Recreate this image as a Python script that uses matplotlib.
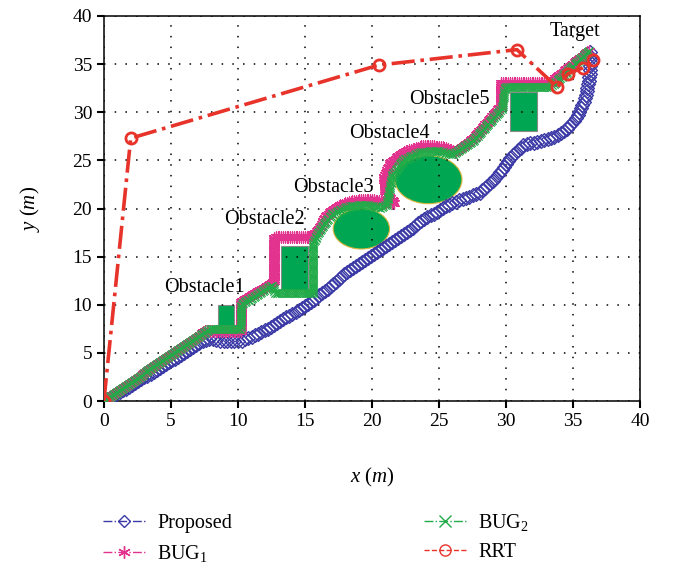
import numpy as np
import matplotlib
matplotlib.use("Agg")
import matplotlib.pyplot as plt
from matplotlib.lines import Line2D
from matplotlib.patches import Rectangle, Ellipse
from matplotlib.patheffects import AbstractPathEffect
from matplotlib.markers import MarkerStyle
from matplotlib.path import Path
from matplotlib.transforms import Affine2D, IdentityTransform

plt.rcParams['font.family'] = ['Liberation Serif', 'DejaVu Serif']
plt.rcParams['mathtext.fontset'] = 'custom'
plt.rcParams['mathtext.rm'] = 'Liberation Serif'
plt.rcParams['mathtext.it'] = 'Liberation Serif:italic'

# paths (x, y in metres)
prop_x = [0, 2, 4, 6, 7.3, 7.8, 8.5, 9.5, 10.3, 11.2, 12.2, 13.5, 15.0, 16.5, 18.0,
          20.2, 22.0, 24.0, 26.0, 28.0, 29.3, 30.3, 31.3, 32.5, 33.5, 34.5, 35.3,
          35.9, 36.2, 36.3, 36.2]
prop_y = [0, 1.6, 3.3, 5.0, 6.2, 6.5, 6.3, 6.2, 6.3, 6.8, 7.5, 8.6, 9.9, 11.4, 13.3,
          15.4, 17.0, 19.0, 20.6, 21.6, 23.3, 25.3, 26.6, 27.0, 27.4, 28.2, 29.6,
          31.5, 33.5, 35.3, 36.4]

bug1_x = [0, 7.6, 10.2, 10.2, 12.7, 12.7, 15.4, 16.0, 16.6, 17.5, 18.6, 19.8, 20.9,
          21.6, 21.0, 20.9, 21.4, 22.4, 23.8, 25.2, 26.2, 27.5, 29.6, 29.6, 33.2, 36.2]
bug1_y = [0, 7.3, 7.3, 10.3, 12.4, 17.0, 17.0, 17.8, 19.3, 20.3, 20.8, 20.9, 20.7,
          20.6, 21.8, 23.3, 24.8, 25.9, 26.5, 26.4, 25.9, 27.2, 30.6, 33.0, 33.0, 36.4]

bug2_x = [0, 7.4, 7.9, 10.2, 10.2, 12.5, 12.8, 15.6, 15.6, 16.2, 17.0, 18.2, 19.4,
          20.6, 21.1, 21.3, 21.5, 22.3, 23.5, 24.8, 26.0, 27.5, 29.7, 29.9, 33.3, 36.2]
bug2_y = [0, 7.1, 7.5, 7.5, 10.0, 12.0, 11.2, 11.2, 16.4, 18.0, 19.4, 20.2, 20.4,
          20.1, 20.4, 22.0, 23.5, 25.0, 25.8, 26.0, 25.6, 27.0, 30.4, 32.6, 32.6, 36.4]

rrt_x = [0, 2.0, 20.5, 30.8, 33.8, 34.6, 35.7, 36.5]
rrt_y = [0, 27.3, 34.9, 36.5, 32.6, 34.0, 34.6, 35.4]

# obstacles: rectangles (x0, y0, w, h) and circles (cx, cy, r)
rects = [(8.5, 7.6, 1.2, 2.4), (13.2, 11.5, 2.0, 4.6), (30.3, 28.1, 2.0, 4.0)]
circles = [(19.2, 17.9, 2.1), (24.2, 23.0, 2.5)]
obs_labels = ['Obstacle1', 'Obstacle2', 'Obstacle3', 'Obstacle4', 'Obstacle5', 'Target']
obs_lx = [7.5, 12.0, 17.1, 21.3, 25.8, 35.1]
obs_ly = [11.8, 18.9, 22.2, 27.8, 31.3, 38.4]

c_prop = '#3b3aa6'
c_bug1 = '#e2348e'
c_bug2 = '#22ab48'
c_rrt = '#e8332b'
c_obs = '#00a651'


class MarkerTrail(AbstractPathEffect):
    """Stamp a marker every `step` points along the drawn line."""

    def __init__(self, marker, size, step, color, lw=0.9):
        super().__init__()
        self.marker = MarkerStyle(marker)
        self.size = size
        self.step = step
        self.color = color
        self.lw = lw

    def draw_path(self, renderer, gc, tpath, affine, rgbFace=None):
        verts = affine.transform(tpath.vertices)
        d = np.hypot(*np.diff(verts, axis=0).T)
        cum = np.r_[0, np.cumsum(d)]
        s = np.arange(0, cum[-1] + 1e-9, renderer.points_to_pixels(self.step))
        pts = np.c_[np.interp(s, cum, verts[:, 0]), np.interp(s, cum, verts[:, 1])]
        mtrans = self.marker.get_transform() + Affine2D().scale(
            renderer.points_to_pixels(self.size))
        gc0 = renderer.new_gc()
        gc0.copy_properties(gc)
        gc0.set_foreground(self.color)
        gc0.set_linewidth(self.lw)
        gc0.set_dashes(0, None)
        renderer.draw_markers(gc0, self.marker.get_path(), mtrans, Path(pts),
                              IdentityTransform(), None)
        gc0.restore()


fig = plt.figure(figsize=(6.79, 5.69), dpi=100)
ax = fig.add_axes([0.153, 0.295, 0.79, 0.677])

for (x0, y0, w, h) in rects:
    ax.add_patch(Rectangle((x0, y0), w, h, fc=c_obs, ec='#8a8a8a', lw=0.8, zorder=1))
for (cx, cy, r) in circles:
    ax.add_patch(Ellipse((cx, cy), 2 * r, 2 * r, fc=c_obs, ec='#d9b43a', lw=0.8, zorder=1))

ax.plot(prop_x, prop_y, color=c_prop, lw=1, ls='-.', zorder=3,
        path_effects=[MarkerTrail('D', 7.0, 2.6, c_prop, lw=1.0)])
ax.plot(bug1_x, bug1_y, color=c_bug1, lw=1, ls='-.', zorder=4,
        path_effects=[MarkerTrail((6, 2, 0), 8.0, 1.3, c_bug1, lw=0.9)])
ax.plot(bug2_x, bug2_y, color=c_bug2, lw=1, ls='-.', zorder=5,
        path_effects=[MarkerTrail('x', 6.0, 1.3, c_bug2, lw=0.9)])
ax.plot(rrt_x, rrt_y, color=c_rrt, lw=2.6, ls='-.', marker='o', ms=8, mfc='none',
        mec=c_rrt, mew=2.0, zorder=6)

for lab, lx, ly in zip(obs_labels, obs_lx, obs_ly):
    ax.text(lx, ly, lab, fontsize=14.5, ha='center', va='center', zorder=7)

ax.set_xlim(0, 40)
ax.set_ylim(0, 40)
ax.set_xticks(np.arange(0, 41, 5))
ax.set_yticks(np.arange(0, 41, 5))
ax.tick_params(direction='out', length=5, width=1.5, labelsize=14, top=False, right=False)
ax.grid(True, color='black', ls=(0, (1, 6)), lw=1.1)
for sp in ax.spines.values():
    sp.set_linewidth(1.1)
ax.set_xlabel(r'$x\ (m)$', fontsize=15, labelpad=26)
ax.set_ylabel(r'$y\ (m)$', fontsize=15, labelpad=22)

handles = [
    Line2D([], [], color=c_prop, ls='-.', lw=1, marker='D', ms=6, mfc='none', mec=c_prop),
    Line2D([], [], color=c_bug1, ls='-.', lw=1, marker=(6, 2, 0), ms=9, mec=c_bug1),
    Line2D([], [], color=c_bug2, ls='-.', lw=1, marker='x', ms=8, mec=c_bug2),
    Line2D([], [], color=c_rrt, ls='--', lw=1, marker='o', ms=8, mfc='none', mec=c_rrt),
]
names = ['Proposed', 'BUG$_1$', 'BUG$_2$', 'RRT']
fig.legend(handles, names, loc='upper left', bbox_to_anchor=(0.125, 0.132), ncol=2,
           frameon=False, fontsize=14.5, handlelength=2.1, handletextpad=0.6,
           columnspacing=9.5, labelspacing=0.5)

fig.savefig('out.png', dpi=100)
